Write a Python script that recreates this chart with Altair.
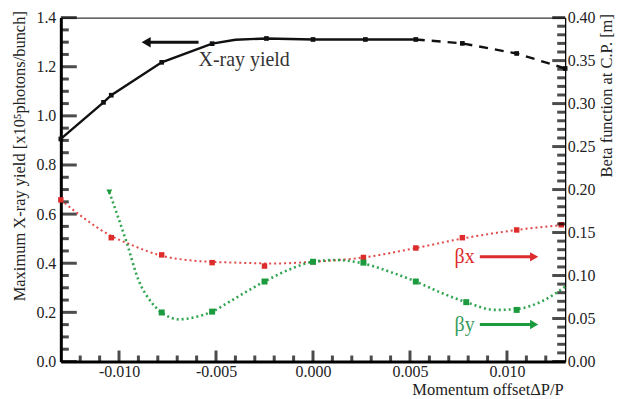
import altair as alt
import pandas as pd

# ---------------- data ----------------
# X-ray yield (left axis, x10^5 photons/bunch)
xray_x = [-0.0130, -0.0108, -0.0104, -0.0078, -0.0052, -0.0040, -0.0024, 0.0000, 0.0027, 0.0053, 0.0077, 0.0105, 0.0130]
xray_y = [0.906, 1.055, 1.084, 1.218, 1.294, 1.310, 1.315, 1.311, 1.311, 1.311, 1.295, 1.254, 1.193]
xray_mx = [-0.0130, -0.0108, -0.0104, -0.0078, -0.0052, -0.0024, 0.0000, 0.0027, 0.0053, 0.0077, 0.0105, 0.0130]
xray_my = [0.906, 1.055, 1.084, 1.218, 1.294, 1.315, 1.311, 1.311, 1.311, 1.295, 1.254, 1.193]

# beta_x (right axis, m): measured markers and fitted curve
bx_mx = [-0.0130, -0.0104, -0.0078, -0.0052, -0.0025, 0.0000, 0.0026, 0.0053, 0.0077, 0.0105, 0.0128]
bx_my = [0.188, 0.144, 0.124, 0.115, 0.111, 0.116, 0.121, 0.132, 0.144, 0.153, 0.159]
bx_cx = [-0.0130, -0.0120, -0.0104, -0.0094, -0.0078, -0.0060, -0.0040, -0.0020, 0.0000, 0.0026, 0.0053, 0.0077, 0.0105, 0.0130]
bx_cy = [0.188, 0.170, 0.146, 0.136, 0.123, 0.117, 0.115, 0.114, 0.116, 0.121, 0.132, 0.143, 0.153, 0.159]

# beta_y (right axis, m)
by_mx = [-0.0105, -0.0078, -0.0052, -0.0025, 0.0000, 0.0026, 0.0053, 0.0079, 0.0105]
by_my = [0.197, 0.057, 0.058, 0.093, 0.116, 0.115, 0.093, 0.069, 0.060]
by_shape = ["triangle-down", "square", "square", "square", "square", "square", "square", "square", "square"]
by_cx = [-0.0105, -0.0096, -0.0090, -0.0083, -0.0076, -0.0069, -0.0060, -0.0052, -0.0042, -0.0025, -0.0010, 0.0000, 0.0012,
         0.0026, 0.0040, 0.0053, 0.0066, 0.0079, 0.0094, 0.0105, 0.0118, 0.0130]
by_cy = [0.197, 0.138, 0.095, 0.068, 0.054, 0.049, 0.052, 0.058, 0.071, 0.093, 0.109, 0.116, 0.118,
         0.114, 0.104, 0.093, 0.080, 0.069, 0.060, 0.061, 0.070, 0.087]

# tick values / labels
x_major = [-0.010, -0.005, 0.000, 0.005, 0.010]
x_minor = [-0.012, -0.011, -0.009, -0.008, -0.007, -0.006, -0.004, -0.003, -0.002, -0.001,
           0.001, 0.002, 0.003, 0.004, 0.006, 0.007, 0.008, 0.009, 0.011, 0.012]
yl_major = [0.0, 0.2, 0.4, 0.6, 0.8, 1.0, 1.2, 1.4]
yl_minor = [0.05, 0.10, 0.15, 0.25, 0.30, 0.35, 0.45, 0.50, 0.55, 0.65, 0.70, 0.75, 0.85, 0.90, 0.95,
            1.05, 1.10, 1.15, 1.25, 1.30, 1.35]
yr_major = [0.0, 0.05, 0.10, 0.15, 0.20, 0.25, 0.30, 0.35, 0.40]
yr_minor = [0.01, 0.02, 0.03, 0.04, 0.06, 0.07, 0.08, 0.09, 0.11, 0.12, 0.13, 0.14, 0.16, 0.17, 0.18, 0.19,
            0.21, 0.22, 0.23, 0.24, 0.26, 0.27, 0.28, 0.29, 0.31, 0.32, 0.33, 0.34, 0.36, 0.37, 0.38, 0.39]

# annotations (data coordinates)
xray_label = ["X-ray yield"]
xray_label_x = [-0.0059]
xray_label_y = [1.226]
xray_arrow = [-0.0086, -0.0059, 1.300]
bx_label_pos = [0.0073, 0.1217]
by_label_pos = [0.0073, 0.0429]
bx_arrow = [0.0086, 0.0114, 0.1217]
by_arrow = [0.0086, 0.0114, 0.0429]

# ---------------- styling ----------------
W, H = 506, 345
FONT = "Liberation Serif"
BLACK = "#111111"
RED = "#dd2c2c"
GREEN = "#1c9b3e"
TICK = "black"

xscale = alt.Scale(domain=[-0.013, 0.013], nice=False, zero=False)
ylscale = alt.Scale(domain=[0, 1.4], nice=False, zero=False)
yrscale = alt.Scale(domain=[0, 0.40], nice=False, zero=False)

common = dict(ticks=False, tickSize=0, grid=False, domain=True, domainColor="black", labelFlush=False,
              labelFont=FONT, labelFontSize=16, labelColor="#222222", labelOverlap=False,
              titleFont=FONT, titleFontSize=16.5, titleFontWeight="normal", titleColor="#222222")

xaxis = alt.Axis(values=x_major, labelExpr="replace(format(datum.value, '.3f'), '\u2212', '-')",
                 labelPadding=2, domainWidth=3,
                 title="Momentum offset\u0394P/P", titleX=W - 2, titleY=33, titleAlign="right",
                 titleBaseline="alphabetic", titleAnchor="end", **common)
ylaxis = alt.Axis(values=yl_major, format=".1f", orient="left", labelPadding=5, domainWidth=3,
                  title="Maximum X-ray yield [x10\u2075photons/bunch]", titleX=-41, titleY=-7,
                  titleAlign="right", titleAngle=270, titleBaseline="middle", **common)
yraxis = alt.Axis(values=yr_major, format=".2f", orient="right", labelPadding=2, domainWidth=1,
                  title="Beta function at C.P. [m]", titleX=41, titleY=-4, titleAlign="right",
                  titleAngle=270, titleBaseline="middle", **common)


def X(field):
    return alt.X(f"{field}:Q", scale=xscale, axis=xaxis)


def YL(field):
    return alt.Y(f"{field}:Q", scale=ylscale, axis=ylaxis)


def YR(field):
    return alt.Y(f"{field}:Q", scale=yrscale, axis=yraxis)


# ---------------- left-axis group ----------------
df_xray = pd.DataFrame({"x": xray_x, "y": xray_y})
df_xray_m = pd.DataFrame({"x": xray_mx, "y": xray_my})

xray_solid = alt.Chart(df_xray).transform_filter("datum.x <= 0.0053").mark_line(
    color=BLACK, strokeWidth=2.4).encode(x=X("x"), y=YL("y"))
xray_dash = alt.Chart(df_xray).transform_filter("datum.x >= 0.0053").mark_line(
    color=BLACK, strokeWidth=2.4, strokeDash=[9, 7]).encode(x=X("x"), y=YL("y"))
xray_pts = alt.Chart(df_xray_m).mark_point(shape="square", filled=True, color=BLACK, size=22, opacity=1).encode(
    x=X("x"), y=YL("y"))

df_lbl = pd.DataFrame({"x": xray_label_x, "y": xray_label_y, "t": xray_label})
xray_text = alt.Chart(df_lbl).mark_text(align="left", baseline="middle", font=FONT, fontSize=20,
                                        color="#333333").encode(x=X("x"), y=YL("y"), text="t:N")
df_arr = pd.DataFrame({"x": [xray_arrow[0]], "x2": [xray_arrow[1]], "y": [xray_arrow[2]]})
xray_shaft = alt.Chart(df_arr).mark_rule(color=BLACK, strokeWidth=3).encode(x=X("x"), x2="x2:Q", y=YL("y"))
xray_head = alt.Chart(df_arr).mark_point(shape="triangle-left", filled=True, color=BLACK, size=110,
                                         opacity=1).encode(x=X("x"), y=YL("y"))

# inward ticks
df_xmaj = pd.DataFrame({"tx": x_major})
df_xmin = pd.DataFrame({"tx": x_minor})
xt_major = alt.Chart(df_xmaj).mark_tick(orient="vertical", color=TICK, thickness=3, size=11).encode(
    x=X("tx"), y=alt.value(H - 5.5))
xt_minor = alt.Chart(df_xmin).mark_tick(orient="vertical", color=TICK, thickness=3, size=6).encode(
    x=X("tx"), y=alt.value(H - 3))

df_ylmaj = pd.DataFrame({"ty": yl_major})
df_ylmin = pd.DataFrame({"ty": yl_minor})
ylt_major = alt.Chart(df_ylmaj).mark_tick(orient="horizontal", color=TICK, thickness=3, size=16).encode(
    y=YL("ty"), x=alt.value(8))
ylt_minor = alt.Chart(df_ylmin).mark_tick(orient="horizontal", color=TICK, thickness=3, size=8).encode(
    y=YL("ty"), x=alt.value(4))

left = alt.layer(xray_solid, xray_dash, xray_pts, xray_shaft, xray_head, xray_text,
                 ylt_major, ylt_minor, xt_major, xt_minor)

# ---------------- right-axis group ----------------
df_bxc = pd.DataFrame({"x": bx_cx, "y": bx_cy})
df_bxm = pd.DataFrame({"x": bx_mx, "y": bx_my})
df_byc = pd.DataFrame({"x": by_cx, "y": by_cy})
df_bym = pd.DataFrame({"x": by_mx, "y": by_my, "s": by_shape})

bx_curve = alt.Chart(df_bxc).mark_line(color=RED, strokeWidth=2, strokeDash=[2, 3], interpolate="monotone",
                                       opacity=0.85).encode(x=X("x"), y=YR("y"))
bx_pts = alt.Chart(df_bxm).mark_point(shape="square", filled=True, color=RED, size=30, opacity=1).encode(
    x=X("x"), y=YR("y"))
by_curve = alt.Chart(df_byc).mark_line(color=GREEN, strokeWidth=2.6, strokeDash=[2, 3], interpolate="monotone",
                                       opacity=0.9).encode(x=X("x"), y=YR("y"))
by_pts = alt.Chart(df_bym).mark_point(filled=True, color=GREEN, size=36, opacity=1).encode(
    x=X("x"), y=YR("y"), shape=alt.Shape("s:N", scale=None, legend=None))

df_bxl = pd.DataFrame({"x": [bx_label_pos[0]], "y": [bx_label_pos[1]], "t": ["\u03b2x"]})
df_byl = pd.DataFrame({"x": [by_label_pos[0]], "y": [by_label_pos[1]], "t": ["\u03b2y"]})
bx_text = alt.Chart(df_bxl).mark_text(align="left", baseline="middle", font=FONT, fontSize=20,
                                      color=RED).encode(x=X("x"), y=YR("y"), text="t:N")
by_text = alt.Chart(df_byl).mark_text(align="left", baseline="middle", font=FONT, fontSize=20,
                                      color="#3a9a60").encode(x=X("x"), y=YR("y"), text="t:N")

df_bxa = pd.DataFrame({"x": [bx_arrow[0]], "x2": [bx_arrow[1]], "y": [bx_arrow[2]]})
df_bya = pd.DataFrame({"x": [by_arrow[0]], "x2": [by_arrow[1]], "y": [by_arrow[2]]})
bx_shaft = alt.Chart(df_bxa).mark_rule(color=RED, strokeWidth=3).encode(x=X("x"), x2="x2:Q", y=YR("y"))
by_shaft = alt.Chart(df_bya).mark_rule(color=GREEN, strokeWidth=3).encode(x=X("x"), x2="x2:Q", y=YR("y"))
bx_head = alt.Chart(df_bxa).mark_point(shape="triangle-right", filled=True, color=RED, size=90, opacity=1).encode(
    x=X("x2"), y=YR("y"))
by_head = alt.Chart(df_bya).mark_point(shape="triangle-right", filled=True, color=GREEN, size=90, opacity=1).encode(
    x=X("x2"), y=YR("y"))

df_yrmaj = pd.DataFrame({"tr": yr_major})
df_yrmin = pd.DataFrame({"tr": yr_minor})
yrt_major = alt.Chart(df_yrmaj).mark_tick(orient="horizontal", color=TICK, thickness=3, size=13).encode(
    y=YR("tr"), x=alt.value(W - 6.5))
yrt_minor = alt.Chart(df_yrmin).mark_tick(orient="horizontal", color=TICK, thickness=3, size=8).encode(
    y=YR("tr"), x=alt.value(W - 4))

right = alt.layer(bx_curve, by_curve, bx_pts, by_pts, bx_text, by_text,
                  bx_shaft, by_shaft, bx_head, by_head, yrt_major, yrt_minor)

chart = alt.layer(left, right).resolve_scale(y="independent").properties(
    width=W, height=H,
    background="white",
    autosize=alt.AutoSizeParams(type="none"),
    padding={"left": 53, "top": 9, "right": 52, "bottom": 37},
).configure_view(stroke="black", strokeWidth=1)

chart.save("out.html", embed_options={"renderer": "svg", "actions": False})
